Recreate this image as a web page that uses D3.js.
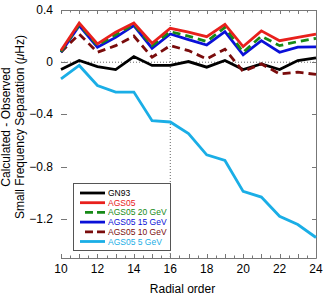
<!DOCTYPE html>
<html>
<head>
<meta charset="utf-8">
<script src="https://cdn.jsdelivr.net/npm/d3@7"></script>
<style>
  body { margin: 0; background: #fff; }
  text { font-family: "Liberation Sans", Arial, sans-serif; }
</style>
</head>
<body>
<div class="chart"></div>
<script>
// radial orders on the x axis
var orders = [10, 11, 12, 13, 14, 15, 16, 17, 18, 19, 20, 21, 22, 23, 24];

// calculated - observed small separation, one array per model
var gn93 = [-0.056, 0.013, -0.033, -0.056, 0.043, -0.025, -0.025, 0.005, -0.038, 0.013, -0.056, -0.013, -0.056, 0.013, 0.033];
var ags05 = [0.089, 0.30, 0.14, 0.23, 0.30, 0.145, 0.26, 0.23, 0.196, 0.29, 0.12, 0.24, 0.165, 0.19, 0.216];
var ags05_20 = [0.08, 0.29, 0.13, 0.21, 0.29, 0.127, 0.234, 0.2, 0.158, 0.267, 0.076, 0.2, 0.127, 0.158, 0.183];
var ags05_15 = [0.076, 0.28, 0.115, 0.19, 0.28, 0.107, 0.216, 0.173, 0.132, 0.234, 0.056, 0.165, 0.076, 0.115, 0.117];
var ags05_10 = [0.076, 0.216, 0.076, 0.127, 0.2, 0.038, 0.127, 0.089, 0.025, 0.10, -0.071, -0.013, -0.089, -0.076, -0.094];
var ags05_5 = [-0.127, -0.025, -0.178, -0.229, -0.229, -0.448, -0.458, -0.547, -0.71, -0.753, -0.99, -1.033, -1.18, -1.244, -1.343];

var seriesNames = ["GN93", "AGS05", "AGS05 20 GeV", "AGS05 15 GeV", "AGS05 10 GeV", "AGS05 5 GeV"];
var seriesValues = [gn93, ags05, ags05_20, ags05_15, ags05_10, ags05_5];
var seriesColors = ["#000000", "#e8201c", "#178a17", "#0a10d8", "#7a0c0c", "#1aaee6"];
var seriesDashed = [false, false, true, false, true, false];

var yTicks = [0.4, 0, -0.4, -0.8, -1.2];
var xTicks = [10, 12, 14, 16, 18, 20, 22, 24];

var svgWidth = 327;
var svgHeight = 298;
var margin = { top: 10, right: 11, bottom: 40, left: 61 };
var width = svgWidth - margin.left - margin.right;
var height = svgHeight - margin.top - margin.bottom;

var svg = d3.select(".chart")
    .append("svg")
    .attr("width", svgWidth)
    .attr("height", svgHeight);

var chart = svg.append("g")
    .attr("transform", "translate(" + margin.left + "," + margin.top + ")");

var x = d3.scaleLinear().domain([10, 24]).range([0, width]);
var y = d3.scaleLinear().domain([-1.5, 0.4]).range([height, 0]);

var frameColor = "#777";

// dotted reference lines at zero and n = 16
chart.append("line")
    .attr("x1", 0).attr("x2", width)
    .attr("y1", y(0)).attr("y2", y(0))
    .attr("stroke", "#666").attr("stroke-width", 1)
    .attr("stroke-dasharray", "1,2");
chart.append("line")
    .attr("x1", x(16)).attr("x2", x(16))
    .attr("y1", 0).attr("y2", height)
    .attr("stroke", "#666").attr("stroke-width", 1)
    .attr("stroke-dasharray", "1,2");

// frame: top, right, bottom (no left spine in the original)
chart.append("path")
    .attr("d", "M0,0.5H" + (width + 0.5) + "V" + (height + 0.5) + "H0")
    .attr("fill", "none")
    .attr("stroke", frameColor)
    .attr("stroke-width", 1);

// x ticks, inward, top and bottom
var minorX = d3.range(10, 24.01, 0.5);
minorX.forEach(function(v) {
    var len = (v % 1 === 0) ? 4 : 2.5;
    var px = Math.round(x(v)) + 0.5;
    chart.append("line").attr("x1", px).attr("x2", px)
        .attr("y1", height).attr("y2", height - len)
        .attr("stroke", frameColor);
    chart.append("line").attr("x1", px).attr("x2", px)
        .attr("y1", 0).attr("y2", len)
        .attr("stroke", frameColor);
});

// y ticks, inward on left and right
yTicks.forEach(function(v) {
    var py = Math.round(y(v)) + 0.5;
    chart.append("line").attr("x1", 0).attr("x2", 6)
        .attr("y1", py).attr("y2", py).attr("stroke", frameColor);
    chart.append("line").attr("x1", width).attr("x2", width - 4)
        .attr("y1", py).attr("y2", py).attr("stroke", frameColor);
});

// tick labels
chart.selectAll(".ylab")
    .data(yTicks)
    .enter()
    .append("text")
    .attr("class", "ylab")
    .attr("x", -8)
    .attr("y", function(d) { return y(d) + 4; })
    .attr("text-anchor", "end")
    .attr("font-size", 12)
    .text(function(d) { return d === 0 ? "0" : d3.format(".1f")(d); });

chart.selectAll(".xlab")
    .data(xTicks)
    .enter()
    .append("text")
    .attr("class", "xlab")
    .attr("x", function(d) { return x(d); })
    .attr("y", height + 15)
    .attr("text-anchor", "middle")
    .attr("font-size", 12)
    .text(function(d) { return d; });

// axis titles
svg.append("text")
    .attr("x", margin.left + width / 2 - 6)
    .attr("y", 293)
    .attr("text-anchor", "middle")
    .attr("font-size", 12)
    .text("Radial order");

var ytitle = svg.append("text")
    .attr("transform", "translate(10,127) rotate(-90)")
    .attr("text-anchor", "middle")
    .attr("font-size", 12);
ytitle.append("tspan")
    .attr("x", 0).attr("y", 0)
    .text("Calculated - Observed");
var line2 = ytitle.append("tspan")
    .attr("x", 0).attr("y", 13.5)
    .text("Small Frequency Separation (");
line2.append("tspan").attr("font-style", "italic").text("\u03bc");
line2.append("tspan").text("Hz)");

// series lines
var line = d3.line()
    .x(function(d, i) { return x(orders[i]); })
    .y(function(d) { return y(d); });

// draw order: light blue, black, dark red, blue, green, red on top
var drawOrder = [5, 0, 4, 3, 2, 1];
drawOrder.forEach(function(k) {
    chart.append("path")
        .datum(seriesValues[k])
        .attr("d", line)
        .attr("fill", "none")
        .attr("stroke", seriesColors[k])
        .attr("stroke-width", 2.8)
        .attr("stroke-linejoin", "miter")
        .attr("stroke-dasharray", seriesDashed[k] ? "8,5" : null);
});

// legend
var legend = svg.append("g").attr("transform", "translate(73,183)");
legend.append("rect")
    .attr("x", 0.5).attr("y", 0.5)
    .attr("width", 97).attr("height", 67)
    .attr("fill", "#fff")
    .attr("stroke", "#555")
    .attr("stroke-width", 1);

seriesNames.forEach(function(name, i) {
    var ly = 10 + i * 9.7;
    legend.append("line")
        .attr("x1", seriesDashed[i] ? 12 : 7)
        .attr("x2", 32)
        .attr("y1", ly).attr("y2", ly)
        .attr("stroke", seriesColors[i])
        .attr("stroke-width", 2.8)
        .attr("stroke-dasharray", seriesDashed[i] ? "8,4" : null);
    legend.append("text")
        .attr("x", 35)
        .attr("y", ly + 3)
        .attr("font-size", 8.5)
        .attr("fill", seriesColors[i])
        .text(name);
});
</script>
</body>
</html>
